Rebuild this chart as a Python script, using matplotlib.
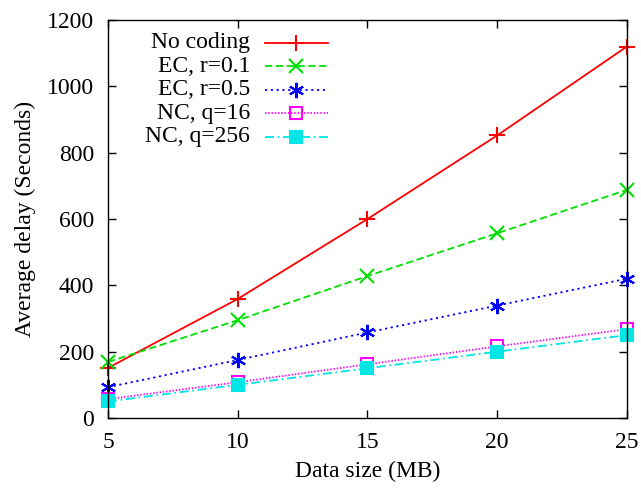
import matplotlib
matplotlib.use("Agg")
import matplotlib.pyplot as plt
from matplotlib.lines import Line2D

plt.rcParams['font.family'] = ['Liberation Serif', 'DejaVu Serif']

data_size = [5, 10, 15, 20, 25]
no_coding = [151, 359, 600, 852, 1120]
ec_01 = [169, 295, 428, 557, 688]
ec_05 = [93, 175, 258, 339, 420]
nc_16 = [57, 108, 162, 216, 268]
nc_256 = [50, 100, 150, 200, 250]

labels = ["No coding", "EC, r=0.1", "EC, r=0.5", "NC, q=16", "NC, q=256"]
series = [no_coding, ec_01, ec_05, nc_16, nc_256]
colors = ["#ff0000", "#00e000", "#0000ff", "#ff00ff", "#00e5e5"]
styles = ["-", (0, (4, 2)), (0, (1.2, 2)), (0, (0.8, 1)), (0, (5, 2, 1, 2))]
markers = ["+", "x", (6, 2, 0), "s", "s"]
mfc = [None, None, None, "none", "#00e5e5"]
msizes = [11, 10, 11, 9, 9]

FS = 17

fig = plt.figure(figsize=(6.41, 4.88), dpi=100)
ax = fig.add_axes([0.1685, 0.1434, 0.8095, 0.8156])

for y, c, ls, m, f, ms in zip(series, colors, styles, markers, mfc, msizes):
    kw = dict(color=c, linestyle=ls, linewidth=1.3, marker=m, markersize=ms,
              markeredgewidth=1.5, clip_on=False)
    if f is not None:
        kw['markerfacecolor'] = f
        kw['markeredgecolor'] = c
    ax.plot(data_size, y, **kw)

ax.set_xlim(5, 25)
ax.set_ylim(0, 1200)
ax.set_xticks(data_size)
ax.set_yticks(range(0, 1201, 200))
ax.tick_params(direction='in', top=True, right=True, labelsize=FS, length=6, width=1)
ax.tick_params(axis='y', pad=10)
ax.tick_params(axis='x', pad=10)
for s in ax.spines.values():
    s.set_linewidth(1)
ax.set_xlabel("Data size (MB)", fontsize=FS, labelpad=6)
ax.set_ylabel("Average delay (Seconds)", fontsize=FS, labelpad=8)

# manual legend (gnuplot style: text right-aligned, sample to the right)
y0 = 0.943
dy = 0.059
for i, (lab, c, ls, m, f, ms) in enumerate(zip(labels, colors, styles, markers, mfc, msizes)):
    yy = y0 - i * dy
    ax.text(0.274, yy, lab, transform=ax.transAxes, ha='right', va='center', fontsize=FS)
    kw = dict(color=c, linestyle=ls, linewidth=1.3, transform=ax.transAxes)
    ax.add_line(Line2D([0.303, 0.424], [yy, yy], **kw))
    mk = dict(color=c, marker=m, markersize=ms, markeredgewidth=1.5, transform=ax.transAxes)
    if f is not None:
        mk['markerfacecolor'] = f
        mk['markeredgecolor'] = c
    ax.add_line(Line2D([0.363], [yy], linestyle='none', **mk))

fig.savefig("out.png", dpi=100)
